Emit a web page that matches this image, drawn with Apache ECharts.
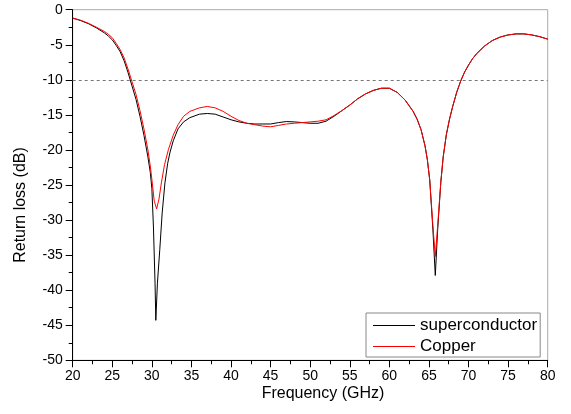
<!DOCTYPE html>
<html>
<head>
<meta charset="utf-8">
<script src="https://cdn.jsdelivr.net/npm/echarts@6/dist/echarts.min.js"></script>
<style>
  html, body { margin: 0; padding: 0; background: #fff; }
  #chart { width: 571px; height: 414px; }
</style>
</head>
<body>
<div id="chart"></div>
<script>
// frequency (GHz) / return loss (dB)
const superconductor = [
  [20, -1.2], [21, -1.55], [22, -2.0], [23, -2.6], [24, -3.3], [24.5, -3.75], [25, -4.3],
  [25.5, -5.1], [26, -6.0], [26.5, -7.3], [27, -9.0], [27.5, -10.9], [28, -12.8],
  [28.5, -15.2], [29, -17.9], [29.5, -21.0], [29.8, -23.2], [30.0, -25.5], [30.2, -31.0],
  [30.4, -39.0], [30.5, -44.3], [30.7, -39.0], [31.0, -34.2], [31.3, -29.0], [31.65, -24.7],
  [32.0, -21.9], [32.3, -20.3], [32.7, -18.7], [33.3, -17.0], [34, -16.0], [34.8, -15.4],
  [36, -14.9], [37, -14.8], [38, -14.9], [39, -15.3], [40, -15.7], [41, -16.0], [42, -16.2],
  [43, -16.3], [44, -16.3], [45, -16.3], [46, -16.1], [47, -15.95], [48, -16.0], [49, -16.1],
  [50, -16.2], [51, -16.2], [52, -15.9], [53, -15.2], [54, -14.4], [55, -13.6], [56, -12.7],
  [57, -12.0], [58, -11.5], [59, -11.2], [60, -11.2], [61, -11.8], [62, -12.9], [63, -14.5],
  [63.5, -15.6], [64, -17.1], [64.5, -19.4], [64.8, -21.4], [65.1, -24.3], [65.5, -31.4],
  [65.8, -37.9], [66.1, -31.4], [66.5, -24.6], [66.8, -21.0], [67.2, -17.8], [67.6, -15.6],
  [68, -13.8], [68.5, -11.8], [69, -10.2], [69.5, -8.9], [70, -7.9], [70.5, -7.0], [71, -6.3],
  [72, -5.2], [73, -4.4], [74, -3.9], [75, -3.6], [76, -3.45], [77, -3.45], [78, -3.6],
  [79, -3.85], [80, -4.2]
];

const copper = [
  [20, -1.2], [21, -1.5], [22, -1.95], [23, -2.5], [24, -3.1], [24.5, -3.5], [25, -4.0],
  [25.5, -4.8], [26, -5.7], [26.5, -6.9], [27, -8.5], [27.5, -10.3], [28, -12.1],
  [28.5, -14.4], [29, -17.0], [29.5, -20.0], [29.8, -22.3], [30.0, -24.2], [30.3, -27.3],
  [30.6, -28.4], [30.9, -27.0], [31.2, -24.7], [31.6, -22.1], [32.1, -19.9], [32.7, -17.9],
  [33.3, -16.4], [34, -15.2], [34.8, -14.5], [36, -14.0], [37, -13.8], [38, -14.0],
  [39, -14.5], [40, -15.2], [41, -15.8], [42, -16.2], [43, -16.4], [44, -16.6], [45, -16.7],
  [46, -16.5], [47, -16.3], [48, -16.2], [49, -16.1], [50, -16.0], [51, -15.9], [52, -15.7],
  [53, -15.1], [54, -14.4], [55, -13.6], [56, -12.7], [57, -12.0], [58, -11.5], [59, -11.2],
  [60, -11.2], [61, -11.8], [62, -12.9], [63, -14.5], [63.5, -15.6], [64, -17.1],
  [64.5, -19.4], [64.8, -21.4], [65.1, -24.3], [65.5, -30.8], [65.8, -35.2], [66.1, -30.8],
  [66.5, -24.6], [66.8, -21.0], [67.2, -17.8], [67.6, -15.6], [68, -13.8], [68.5, -11.8],
  [69, -10.2], [69.5, -8.9], [70, -7.9], [70.5, -7.0], [71, -6.3], [72, -5.2], [73, -4.4],
  [74, -3.9], [75, -3.6], [76, -3.45], [77, -3.45], [78, -3.6], [79, -3.85], [80, -4.2]
];

const seriesNames = ['superconductor', 'Copper'];
const threshold = -10;

const font = '"Liberation Sans", Arial, sans-serif';
const chart = echarts.init(document.getElementById('chart'), null, { renderer: 'canvas' });

const axisCommon = {
  axisLine: { show: true, onZero: false, lineStyle: { color: '#000', width: 1 } },
  axisTick: { show: true, inside: false, length: 7, lineStyle: { color: '#000' } },
  minorTick: { show: true, splitNumber: 2, length: 4, lineStyle: { color: '#000' } },
  splitLine: { show: false },
  axisLabel: { color: '#000', fontSize: 14, fontFamily: font }
};

const option = {
  animation: false,
  backgroundColor: '#fff',
  grid: {
    left: 72.7, right: 23.3, top: 9.7, bottom: 53.7,
    show: true, borderColor: '#aaa', borderWidth: 1, backgroundColor: 'transparent'
  },
  xAxis: {
    type: 'value', min: 20, max: 80, interval: 5,
    ...axisCommon,
    axisLabel: { ...axisCommon.axisLabel, margin: 9 }
  },
  yAxis: {
    type: 'value', min: -50, max: 0, interval: 5,
    ...axisCommon,
    axisLabel: { ...axisCommon.axisLabel, margin: 10 }
  },
  legend: {
    data: seriesNames,
    orient: 'vertical',
    left: 366, top: 313,
    padding: [4, 3, 2, 7],
    itemGap: 4,
    itemWidth: 42, itemHeight: 1.2,
    icon: 'rect',
    borderColor: '#888', borderWidth: 1,
    backgroundColor: '#fff',
    textStyle: { color: '#000', fontSize: 17, fontFamily: font, lineHeight: 17 }
  },
  graphic: [
    {
      type: 'text',
      rotation: Math.PI / 2,
      x: 21, y: 205,
      style: { text: 'Return loss (dB)', fill: '#000', font: '16px ' + font, textAlign: 'center', textVerticalAlign: 'middle' }
    },
    {
      type: 'text',
      x: 323, y: 394,
      style: { text: 'Frequency (GHz)', fill: '#000', font: '16px ' + font, textAlign: 'center', textVerticalAlign: 'middle' }
    }
  ],
  series: [
    {
      name: seriesNames[0], type: 'line', data: superconductor,
      showSymbol: false, smooth: false,
      lineStyle: { color: '#000', width: 1 }, itemStyle: { color: '#000' },
      markLine: {
        silent: true, symbol: 'none', label: { show: false },
        lineStyle: { color: '#777', type: [3, 3], width: 1 },
        data: [{ yAxis: threshold }]
      }
    },
    {
      name: seriesNames[1], type: 'line', data: copper,
      showSymbol: false, smooth: false,
      lineStyle: { color: '#ff0000', width: 1 }, itemStyle: { color: '#ff0000' }
    }
  ]
};

chart.setOption(option);
</script>
</body>
</html>
